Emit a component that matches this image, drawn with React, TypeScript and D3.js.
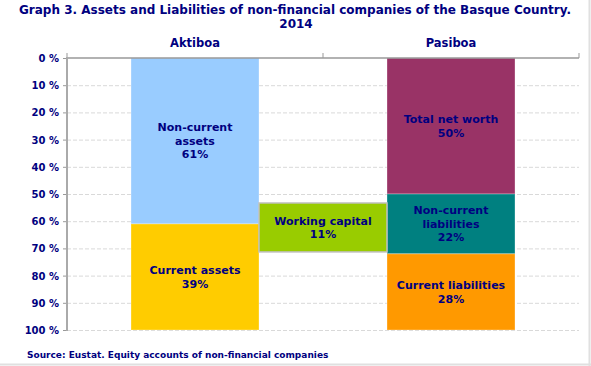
import * as d3 from 'd3';

const categories = ['Aktiboa', 'Pasiboa'];

const assetLabels = [['Non-current', 'assets'], ['Current assets']];
const assetValues = [61, 39];
const assetColors = ['#99CCFF', '#FFCC00'];

const liabilityLabels = [['Total net worth'], ['Non-current', 'liabilities'], ['Current liabilities']];
const liabilityValues = [50, 22, 28];
const liabilityColors = ['#993366', '#008080', '#FF9900'];

const capitalLabel = ['Working capital'];
const capitalValue = 11;
const capitalSpan = [53.3, 71.3];
const capitalColor = '#99CC00';

const yTicks = [0, 10, 20, 30, 40, 50, 60, 70, 80, 90, 100];

const navy = '#000080';
const font = 'Verdana, "DejaVu Sans", sans-serif';

function stack(values: number[]) {
    let acc = 0;
    return values.map(v => {
        const s = acc;
        acc += v;
        return [s, acc];
    });
}

export default function App() {
    const width = 591;
    const height = 366;
    const left = 67, right = 579, top = 58, bottom = 330;

    const x = d3.scaleBand().domain(categories).range([left, right]).padding(0);
    const y = d3.scaleLinear().domain([0, 100]).range([top, bottom]);
    const barW = x.bandwidth() / 2;
    const barX = (c: string) => (x(c) as number) + x.bandwidth() / 4;

    const columns = [
        { cat: categories[0], labels: assetLabels, values: assetValues, colors: assetColors },
        { cat: categories[1], labels: liabilityLabels, values: liabilityValues, colors: liabilityColors },
    ];

    // etiqueta centrada dentro de cada bloque
    const label = (lines: string[], pct: number, cx: number, cy: number, key: string) => {
        const all = [...lines, `${pct}%`];
        const lh = 13.5;
        const y0 = cy - ((all.length - 1) * lh) / 2 + 4;
        return (
            <text key={key} textAnchor="middle" fontFamily={font} fontWeight="bold" fontSize={11} fill={navy}>
                {all.map((t, i) => (
                    <tspan key={i} x={cx} y={y0 + i * lh}>{t}</tspan>
                ))}
            </text>
        );
    };

    const wcLeft = barX(categories[0]) + barW;
    const wcRight = barX(categories[1]);

    return (
        <svg width={width} height={height} style={{ position: 'absolute', left: 0, top: 0, background: '#fff' }}>
            <line x1={width - 1.5} x2={width - 1.5} y1={0} y2={height} stroke="#e0e0e0" strokeWidth={2} />
            <line x1={0} x2={width} y1={height - 1.5} y2={height - 1.5} stroke="#e0e0e0" strokeWidth={2} />

            <text x={295} y={14} textAnchor="middle" fontFamily={font} fontWeight="bold" fontSize={12} fill={navy}>
                Graph 3. Assets and Liabilities of non-financial companies of the Basque Country.
            </text>
            <text x={296} y={28} textAnchor="middle" fontFamily={font} fontWeight="bold" fontSize={12} fill={navy}>
                2014
            </text>

            {yTicks.map(t => (
                <g key={t}>
                    {t > 0 && (
                        <line x1={left} x2={right} y1={y(t) + 0.5} y2={y(t) + 0.5} stroke="#d9d9d9" strokeDasharray="4,2" />
                    )}
                    <line x1={left - 4} x2={left} y1={y(t) + 0.5} y2={y(t) + 0.5} stroke="#999" />
                    <text x={left - 8} y={y(t) + 4} textAnchor="end" fontFamily={font} fontWeight="bold" fontSize={10} fill={navy}>
                        {`${t} %`}
                    </text>
                </g>
            ))}

            {columns.map(col => {
                const spans = stack(col.values);
                return (
                    <g key={col.cat}>
                        {spans.map((s, i) => (
                            <rect key={i} x={barX(col.cat)} y={y(s[0])} width={barW} height={y(s[1]) - y(s[0])}
                                fill={col.colors[i]} stroke="#ffffff" strokeOpacity={0.3} />
                        ))}
                        {spans.map((s, i) =>
                            label(col.labels[i], col.values[i], barX(col.cat) + barW / 2, (y(s[0]) + y(s[1])) / 2, col.cat + i)
                        )}
                    </g>
                );
            })}

            <rect x={wcLeft} y={y(capitalSpan[0])} width={wcRight - wcLeft} height={y(capitalSpan[1]) - y(capitalSpan[0])}
                fill={capitalColor} stroke="#c0c0c0" strokeWidth={1.5} />
            {label(capitalLabel, capitalValue, (wcLeft + wcRight) / 2, (y(capitalSpan[0]) + y(capitalSpan[1])) / 2, 'wc')}

            <line x1={left} x2={right} y1={top} y2={top} stroke="#999" strokeWidth={1.5} />
            {[left, (x(categories[1]) as number), right].map((tx, i) => (
                <line key={i} x1={tx} x2={tx} y1={top - 5} y2={top} stroke="#999" />
            ))}
            <line x1={left} x2={left} y1={top - 1} y2={bottom + 1} stroke="#aaa" strokeWidth={2} />

            {categories.map(c => (
                <text key={c} x={(x(c) as number) + x.bandwidth() / 2} y={47} textAnchor="middle" fontFamily={font}
                    fontWeight="bold" fontSize={11.5} fill={navy}>
                    {c}
                </text>
            ))}

            <text x={27} y={358} fontFamily={font} fontWeight="bold" fontSize={9} fill={navy}>
                Source: Eustat. Equity accounts of non-financial companies
            </text>
        </svg>
    );
}
